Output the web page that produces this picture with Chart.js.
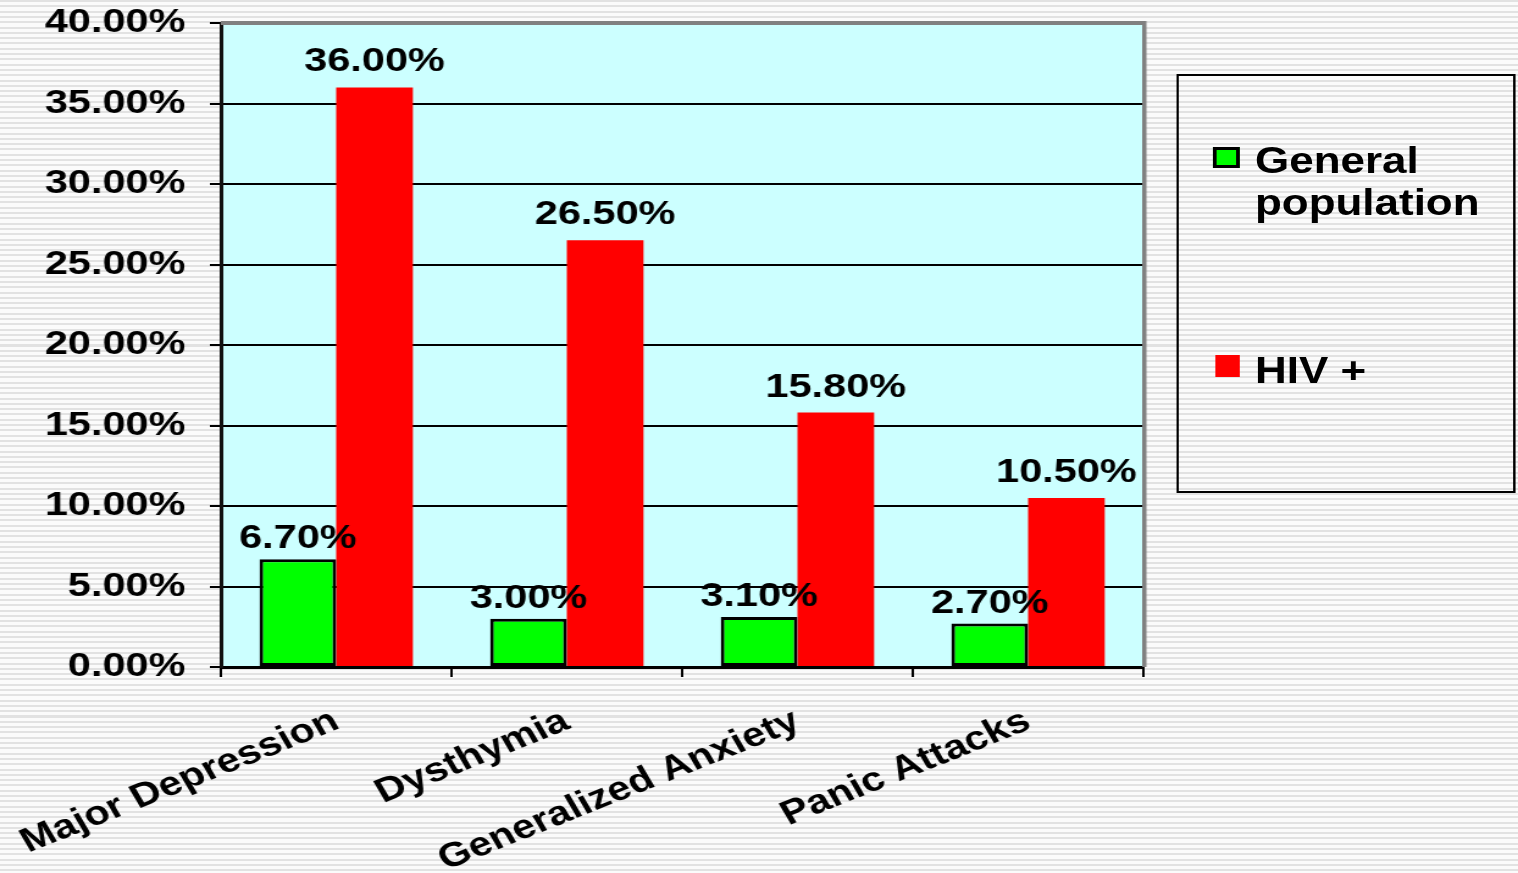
<!DOCTYPE html>
<html>
<head>
<meta charset="utf-8">
<title>Prevalence of psychiatric disorders: general population vs HIV+</title>
<script src="https://cdn.jsdelivr.net/npm/chart.js@4/dist/chart.umd.min.js"></script>
<style>
  html, body {
    margin: 0;
    padding: 0;
    width: 1518px;
    height: 873px;
    overflow: hidden;
    background: repeating-linear-gradient(to bottom, #e2e2e2 0px, #e2e2e2 2px, #fbfbfb 2px, #fbfbfb 5.3px);
  }
  /* The whole figure is laid out on a narrower canvas and widened horizontally */
  #wrap {
    position: absolute;
    left: 0;
    top: 0;
    width: 1244px;
    height: 873px;
    transform: scaleX(1.22026);
    transform-origin: 0 0;
  }
  #c { position: absolute; left: 0; top: 0; }
  #legend {
    position: absolute;
    left: 964px;
    top: 74px;
    width: 278px;
    height: 419px;
    box-sizing: border-box;
    border: 2px solid #000;
    font-family: "Liberation Sans", Arial, sans-serif;
    font-weight: bold;
    font-size: 36px;
    line-height: 42px;
    color: #000;
  }
  .sw { position: absolute; box-sizing: border-box; }
  .lt { position: absolute; width: 200px; white-space: normal; }
</style>
</head>
<body>
<div id="wrap">
  <canvas id="c" width="1244" height="873"></canvas>
  <div id="legend"></div>
</div>
<script>
// Disorder categories and prevalence (percent) per group
const categories = ['Major Depression', 'Dysthymia', 'Generalized Anxiety', 'Panic Attacks'];
const seriesNames = ['General population', 'HIV +'];
const generalPopulation = [6.7, 3.0, 3.1, 2.7];
const hivPositive = [36.0, 26.5, 15.8, 10.5];
const yTicks = [0, 5, 10, 15, 20, 25, 30, 35, 40];

const FONT = '"Liberation Sans", Arial, sans-serif';
const seriesColors = ['#00FF00', '#FF0000'];

// Light cyan plot area
const plotBackground = {
  id: 'plotBackground',
  beforeDraw(chart) {
    const { ctx, chartArea: a } = chart;
    ctx.save();
    ctx.fillStyle = '#CCFFFF';
    ctx.fillRect(a.left, a.top, a.right - a.left, a.bottom - a.top);
    ctx.restore();
  }
};

// Grey frame on the top and right edges of the plot area
const plotFrame = {
  id: 'plotFrame',
  afterDatasetsDraw(chart) {
    const { ctx, chartArea: a } = chart;
    ctx.save();
    ctx.fillStyle = '#808080';
    ctx.fillRect(a.left, a.top - 2, a.right - a.left + 2, 4);
    ctx.fillRect(a.right - 1, a.top - 2, 3.5, a.bottom - a.top + 2);
    ctx.restore();
  }
};

// Percentage labels above every bar
const valueLabels = {
  id: 'valueLabels',
  afterDatasetsDraw(chart) {
    const { ctx } = chart;
    ctx.save();
    ctx.font = 'bold 34px ' + FONT;
    ctx.fillStyle = '#000';
    ctx.textAlign = 'center';
    ctx.textBaseline = 'alphabetic';
    chart.data.datasets.forEach((ds, di) => {
      const meta = chart.getDatasetMeta(di);
      const gap = di === 0 ? 11 : 16;
      meta.data.forEach((el, i) => {
        ctx.fillText(ds.data[i].toFixed(2) + '%', el.x, el.y - gap);
      });
    });
    ctx.restore();
  }
};

const chart = new Chart(document.getElementById('c'), {
  type: 'bar',
  data: {
    labels: categories,
    datasets: [
      {
        label: seriesNames[0],
        data: generalPopulation,
        backgroundColor: seriesColors[0],
        borderColor: '#000',
        borderWidth: 3,
        borderSkipped: false,
        categoryPercentage: 0.665,
        barPercentage: 1.0
      },
      {
        label: seriesNames[1],
        data: hivPositive,
        backgroundColor: seriesColors[1],
        borderWidth: 0,
        categoryPercentage: 0.665,
        barPercentage: 1.0
      }
    ]
  },
  options: {
    responsive: false,
    animation: false,
    events: [],
    layout: { padding: { left: 0, top: 23, right: 307, bottom: 0 } },
    plugins: {
      legend: { display: false },
      tooltip: { enabled: false },
      title: { display: false }
    },
    scales: {
      x: {
        offset: true,
        grid: {
          offset: true,
          drawOnChartArea: false,
          drawTicks: true,
          tickLength: 10,
          color: '#000',
          lineWidth: 2
        },
        border: { display: true, color: '#000', width: 3 },
        ticks: {
          color: '#000',
          font: { family: FONT, size: 34, weight: 'bold' },
          minRotation: 26,
          maxRotation: 26,
          padding: 24,
          autoSkip: false
        },
        afterFit(scale) {
          scale.height = 206;
          scale.paddingLeft = 0;
          scale.paddingRight = 0;
        }
      },
      y: {
        min: 0,
        max: 40,
        afterBuildTicks(scale) { scale.ticks = yTicks.map(v => ({ value: v })); },
        grid: {
          color: '#000',
          lineWidth: 2,
          drawTicks: true,
          tickLength: 9
        },
        border: { display: true, color: '#111', width: 3 },
        ticks: {
          color: '#000',
          font: { family: FONT, size: 34, weight: 'bold' },
          padding: 20,
          callback: v => v.toFixed(2) + '%'
        },
        afterFit(scale) {
          scale.width = 181;
          scale.paddingTop = 0;
          scale.paddingBottom = 0;
        }
      }
    }
  },
  plugins: [plotBackground, plotFrame, valueLabels]
});

// Legend box built from the dataset names and colours
(function buildLegend() {
  const box = document.getElementById('legend');
  const items = [
    { sw: { left: 28, top: 71, width: 22, height: 21, border: '3px solid #000' }, text: { left: 62.5, top: 63.5 } },
    { sw: { left: 29.6, top: 279, width: 20, height: 22, border: 'none' }, text: { left: 62.5, top: 273.5 } }
  ];
  chart.data.datasets.forEach((ds, i) => {
    const it = items[i];
    const sw = document.createElement('div');
    sw.className = 'sw';
    sw.style.left = it.sw.left + 'px';
    sw.style.top = it.sw.top + 'px';
    sw.style.width = it.sw.width + 'px';
    sw.style.height = it.sw.height + 'px';
    sw.style.border = it.sw.border;
    sw.style.background = ds.backgroundColor;
    const tx = document.createElement('div');
    tx.className = 'lt';
    tx.style.left = it.text.left + 'px';
    tx.style.top = it.text.top + 'px';
    tx.textContent = ds.label;
    box.appendChild(sw);
    box.appendChild(tx);
  });
})();
</script>
</body>
</html>
